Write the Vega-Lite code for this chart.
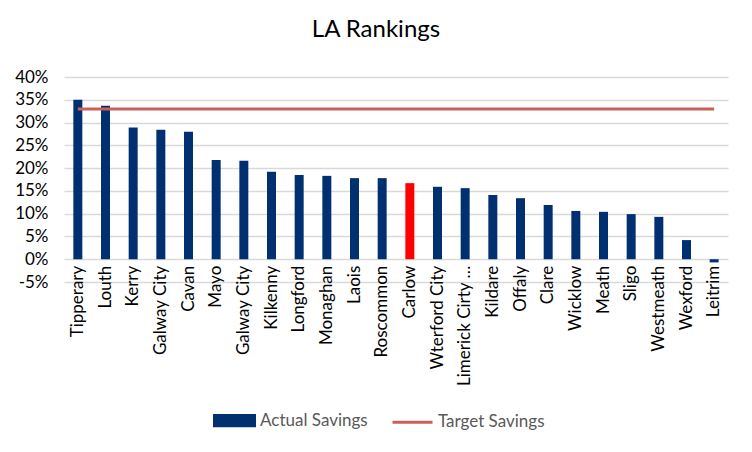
{
  "$schema": "https://vega.github.io/schema/vega-lite/v6.json",
  "autosize": {"type": "none"},
  "width": 664,
  "height": 205,
  "padding": {"left": 64, "top": 77, "right": 24, "bottom": 170},
  "background": "white",
  "config": {"font": "Lato", "view": {"stroke": null}},
  "title": {"text": "LA Rankings", "fontSize": 24, "fontWeight": "normal", "color": "#000000", "anchor": "middle", "frame": "group", "dx": -20, "offset": 26},
  "data": {"values": [
    {"la": "Tipperary", "actual": 0.350, "target": 0.33},
    {"la": "Louth", "actual": 0.337, "target": 0.33},
    {"la": "Kerry", "actual": 0.289, "target": 0.33},
    {"la": "Galway City", "actual": 0.284, "target": 0.33},
    {"la": "Cavan", "actual": 0.280, "target": 0.33},
    {"la": "Mayo", "actual": 0.218, "target": 0.33},
    {"la": "Galway City ", "actual": 0.216, "target": 0.33},
    {"la": "Kilkenny", "actual": 0.192, "target": 0.33},
    {"la": "Longford", "actual": 0.185, "target": 0.33},
    {"la": "Monaghan", "actual": 0.183, "target": 0.33},
    {"la": "Laois", "actual": 0.178, "target": 0.33},
    {"la": "Roscommon", "actual": 0.178, "target": 0.33},
    {"la": "Carlow", "actual": 0.167, "target": 0.33},
    {"la": "Wterford City", "actual": 0.159, "target": 0.33},
    {"la": "Limerick Cirty & County", "actual": 0.156, "target": 0.33},
    {"la": "Kildare", "actual": 0.141, "target": 0.33},
    {"la": "Offaly", "actual": 0.134, "target": 0.33},
    {"la": "Clare", "actual": 0.119, "target": 0.33},
    {"la": "Wicklow", "actual": 0.106, "target": 0.33},
    {"la": "Meath", "actual": 0.104, "target": 0.33},
    {"la": "Sligo", "actual": 0.099, "target": 0.33},
    {"la": "Westmeath", "actual": 0.093, "target": 0.33},
    {"la": "Wexford", "actual": 0.042, "target": 0.33},
    {"la": "Leitrim", "actual": -0.007, "target": 0.33}
  ]},
  "encoding": {
    "x": {
      "field": "la", "type": "nominal", "sort": null, "title": null,
      "scale": {"paddingInner": 0.675, "paddingOuter": 0.3375},
      "axis": {"labelAngle": -90, "labelAlign": "right", "labelBaseline": "middle", "labelFontSize": 17, "labelColor": "#000000", "labelPadding": 6, "labelLimit": 130, "labelOverlap": false, "domain": false, "ticks": false, "grid": false, "offset": -22.8}
    }
  },
  "layer": [
    {
      "mark": {"type": "bar"},
      "encoding": {
        "y": {
          "field": "actual", "type": "quantitative", "title": null,
          "scale": {"domain": [-0.05, 0.4], "nice": false, "zero": false},
          "axis": {"values": [-0.05, 0, 0.05, 0.1, 0.15, 0.2, 0.25, 0.3, 0.35, 0.4], "tickCount": 10, "format": ".0%", "labelExpr": "replace(datum.label, '\u2212', '-')", "labelOverlap": false, "labelFontSize": 17, "labelColor": "#000000", "labelPadding": 16, "domain": false, "ticks": false, "gridColor": "#D9D9D9", "gridWidth": 1.3}
        },
        "color": {
          "condition": {"test": "datum.la === 'Carlow'", "value": "#FF0000"},
          "datum": "Actual Savings",
          "scale": {"domain": ["Actual Savings", "Target Savings"], "range": ["#003070", "#C9605C"]},
          "legend": {
            "title": null, "orient": "none", "legendX": 149, "legendY": 322, "direction": "horizontal",
            "labelFontSize": 17, "labelColor": "#595959", "symbolSize": 1600, "columnPadding": 18, "labelOffset": 4,
            "encode": {"symbols": {"update": {
              "shape": {"signal": "datum.value === 'Actual Savings' ? 'M-1,-0.256H1V0.256H-1Z' : 'M-1,0H1'"},
              "fill": {"signal": "datum.value === 'Actual Savings' ? '#003070' : 'transparent'"},
              "stroke": {"signal": "datum.value === 'Actual Savings' ? 'transparent' : '#C9605C'"},
              "strokeWidth": {"value": 3},
              "opacity": {"value": 1}
            }}}
          }
        }
      }
    },
    {
      "mark": {"type": "line", "strokeWidth": 3},
      "encoding": {
        "y": {"field": "target", "type": "quantitative"},
        "color": {"datum": "Target Savings"}
      }
    }
  ]
}
